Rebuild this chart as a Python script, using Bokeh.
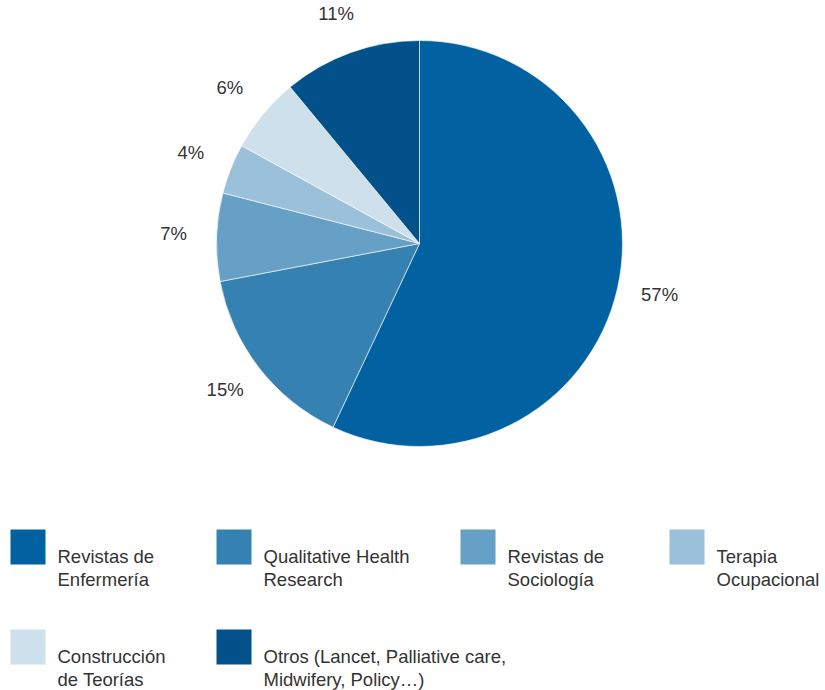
import math
from bokeh.plotting import figure
from bokeh.models import Range1d, ColumnDataSource
from bokeh.core.properties import value
from bokeh.embed import file_html
from bokeh.resources import INLINE

# ---- data ----
categories = ["Revistas de\nEnfermería", "Qualitative Health\nResearch", "Revistas de\nSociología",
              "Terapia\nOcupacional", "Construcción\nde Teorías", "Otros (Lancet, Palliative care,\nMidwifery, Policy…)"]
percents = [57, 15, 7, 4, 6, 11]
colors = ["#0262a1", "#3581b2", "#67a0c6", "#9bc0da", "#cde0ec", "#03518a"]

FONT = "Liberation Sans"
TXT = "#333333"
W, H = 825, 690

p = figure(width=W, height=H, output_backend="svg", toolbar_location=None,
           x_range=Range1d(0, W), y_range=Range1d(0, H),
           min_border=0, outline_line_color=None)
p.axis.visible = False
p.grid.visible = False

# screen coords -> data: x same, y = H - sy
def sy(y):
    return H - y

cx, cy, r = 419, sy(243), 203
total = sum(percents)
starts, ends, lx, ly = [], [], [], []
cum = 0
for v in percents:
    a_start = math.radians(90 - (cum + v) / total * 360)
    a_end = math.radians(90 - cum / total * 360)
    mid = (a_start + a_end) / 2
    starts.append(a_start)
    ends.append(a_end)
    lx.append(cx + 246 * math.cos(mid))
    ly.append(cy + 242 * math.sin(mid) + 2)
    cum += v

src = ColumnDataSource(dict(start=starts, end=ends, color=colors))
p.wedge(x=cx, y=cy, radius=r, start_angle="start", end_angle="end", direction="anticlock",
        fill_color="color", line_color="white", line_width=0.6, source=src)

p.text(x=lx, y=ly, text=[f"{v}%" for v in percents], text_align="center", text_baseline="middle",
       text_font=value(FONT), text_font_size="18.5px", text_color=TXT)

# ---- legend ----
col_x = [10, 216, 460, 669]
row_y = [529, 629]
sq = 35
rx, ry, tx, ty, tt = [], [], [], [], []
for i, lab in enumerate(categories):
    c = i % 4
    rw = i // 4
    x0, y0 = col_x[c], row_y[rw]
    rx.append(x0 + sq / 2)
    ry.append(sy(y0 + sq / 2))
    for j, line in enumerate(lab.split("\n")):
        tx.append(x0 + 47)
        ty.append(sy(y0 + 27 + 23 * j))
        tt.append(line)

p.rect(x=rx, y=ry, width=sq, height=sq, fill_color=colors, line_color=None)
p.text(x=tx, y=ty, text=tt, text_align="left", text_baseline="middle",
       text_font=value(FONT), text_font_size="18.5px", text_color=TXT)

open("out.html", "w").write(file_html(p, INLINE))
